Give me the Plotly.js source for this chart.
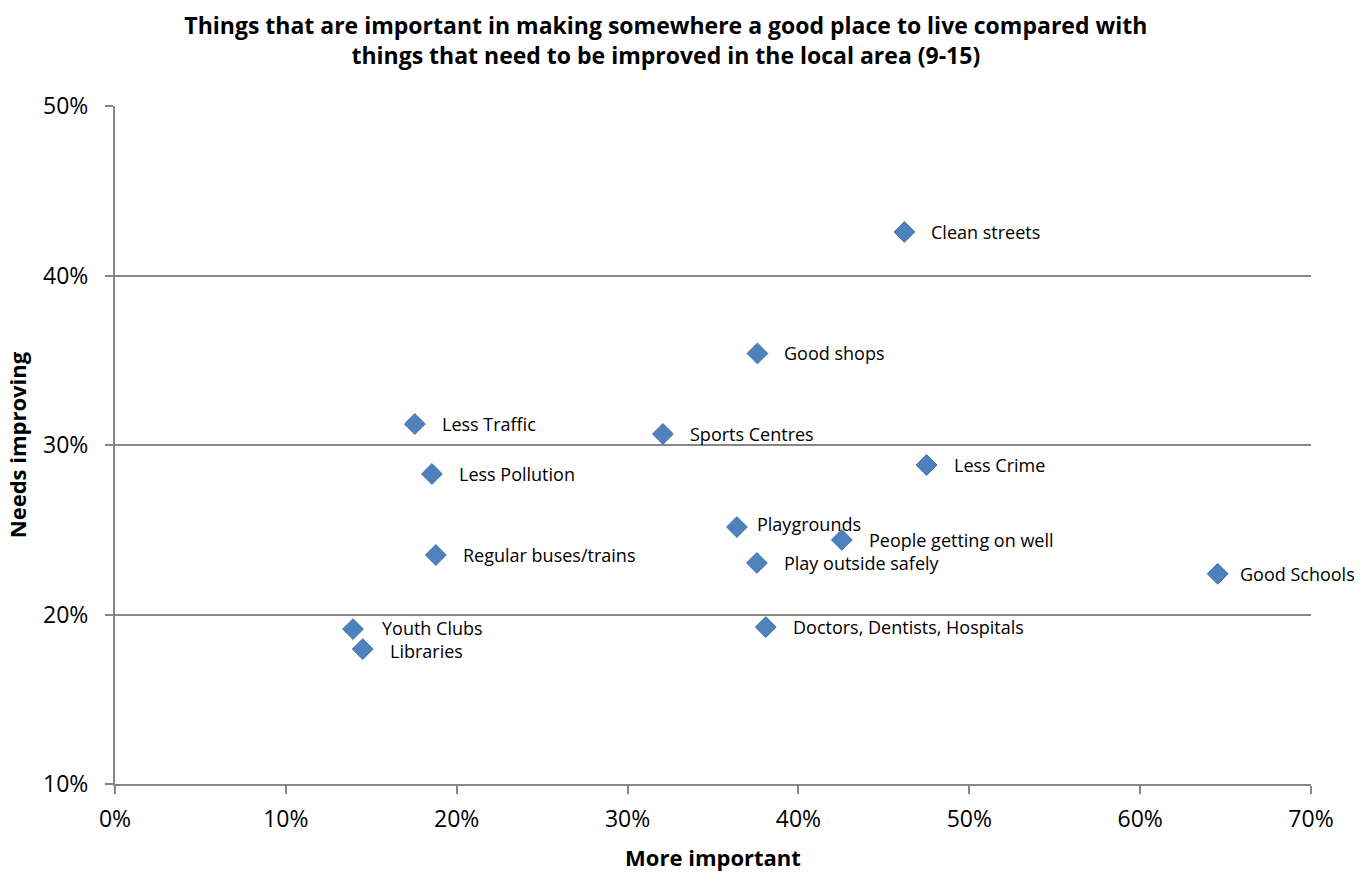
<!DOCTYPE html>
<html>
<head>
<meta charset="utf-8">
<script src="https://cdn.plot.ly/plotly-3.0.1.min.js"></script>
<style>html,body{margin:0;padding:0;background:#fff;}#chart{width:1370px;height:872px;}</style>
</head>
<body>
<div id="chart"></div>
<script>
const categories = [
  "Clean streets", "Good shops", "Less Traffic", "Sports Centres", "Less Pollution",
  "Less Crime", "Playgrounds", "People getting on well", "Regular buses/trains",
  "Play outside safely", "Good Schools", "Doctors, Dentists, Hospitals",
  "Youth Clubs", "Libraries"
];
const moreImportant = [0.462, 0.376, 0.1755, 0.3207, 0.1855, 0.475, 0.364, 0.4254, 0.1878, 0.3757, 0.6454, 0.3809, 0.1393, 0.145];
const needsImproving = [0.4257, 0.354, 0.3124, 0.3065, 0.2829, 0.2882, 0.2516, 0.244, 0.2351, 0.2304, 0.224, 0.1926, 0.1914, 0.1796];

const FONT = "'Open Sans', sans-serif";
const labelShift = {"Playgrounds": [18, 3], "Good Schools": [20, 0], "Youth Clubs": [27, 1], "Libraries": [25, -2]};

const annotations = categories.map((c, i) => {
  const s = labelShift[c] || [25, 0];
  return {
    x: moreImportant[i], y: needsImproving[i], xref: 'x', yref: 'y',
    text: c, showarrow: false, xanchor: 'left', yanchor: 'middle',
    xshift: s[0], yshift: s[1],
    font: {family: FONT, size: 18, color: '#000'}
  };
});

const trace = {
  type: 'scatter', mode: 'markers',
  x: moreImportant, y: needsImproving, text: categories,
  marker: {symbol: 'diamond', size: 16, color: '#4F81BD', line: {color: '#3F6FA8', width: 1}},
  hoverinfo: 'text+x+y'
};

const axisCommon = {
  showline: true, linecolor: '#868686', linewidth: 2,
  ticks: 'outside', ticklen: 8, tickcolor: '#868686', tickwidth: 2,
  tickformat: '.0%', zeroline: false,
  tickfont: {family: FONT, size: 23, color: '#000'}
};

const layout = {
  width: 1370, height: 872,
  paper_bgcolor: '#fff', plot_bgcolor: '#fff',
  margin: {l: 115, r: 59, t: 106, b: 88},
  showlegend: false,
  title: {
    text: '<b>Things that are important in making somewhere a good place to live compared with<br>things that need to be improved in the local area (9-15)</b>',
    x: 0.486, xref: 'container', xanchor: 'center', y: 0.961, yanchor: 'middle', yref: 'container',
    font: {family: FONT, size: 23, color: '#000'}
  },
  xaxis: Object.assign({}, axisCommon, {
    range: [0, 0.7], dtick: 0.1, showgrid: false, ticklabelstandoff: 5,
    title: {text: '<b>More important</b>', font: {family: FONT, size: 22, color: '#000'}, standoff: 18}
  }),
  yaxis: Object.assign({}, axisCommon, {
    range: [0.1, 0.5], dtick: 0.1, showgrid: true, gridcolor: '#868686', gridwidth: 1.5, ticklabelstandoff: 12,
    title: {text: '<b>Needs improving</b>', font: {family: FONT, size: 22, color: '#000'}, standoff: 10}
  }),
  annotations: annotations
};

Plotly.newPlot('chart', [trace], layout, {displayModeBar: false});
</script>
</body>
</html>
